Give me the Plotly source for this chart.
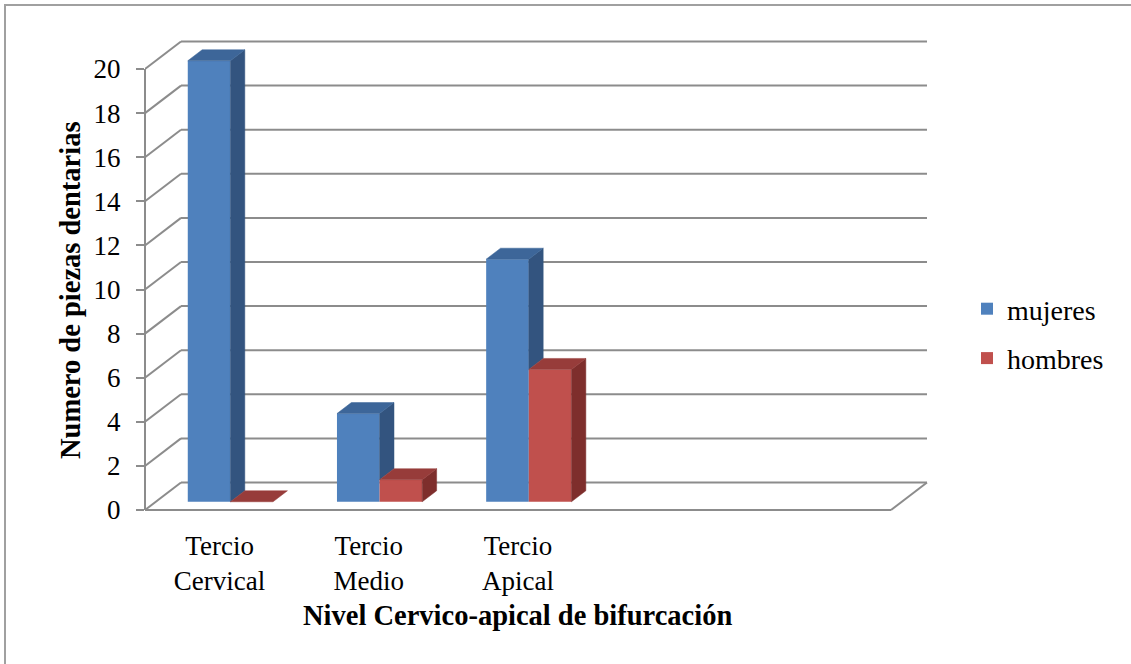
import plotly.graph_objects as go

# ---------------- data ----------------
categories = ["Tercio<br>Cervical", "Tercio<br>Medio", "Tercio<br>Apical", "", ""]
series_names = ["mujeres", "hombres"]
mujeres = [20, 4, 11]
hombres = [0, 1, 6]
y_ticks = [0, 2, 4, 6, 8, 10, 12, 14, 16, 18, 20]

# ---------------- styling / geometry ----------------
FONT = "Liberation Serif"
front_colors = ["#4F81BD", "#C0504D"]
side_colors = ["#33547F", "#7E2E2C"]
top_colors = ["#3D6699", "#973C3A"]
GRID = "#8C8C8C"

W, H = 1131, 664
PX_CAT = 149.2      # px per category on front plane
PX_UNIT = 22.05     # px per value unit
L, T, B = 145, 39, 151
PW = 785
PH = H - T - B
R = W - L - PW
DX = 36 / PX_CAT     # full depth shift in x units
DY = 27.5 / PX_UNIT  # full depth shift in y units
BAR_W = 1 / 3.5
D0, D1 = 0.3, 0.7
N = len(categories)
YMAX = y_ticks[-1]

x_lo = -0.5
x_hi = x_lo + PW / PX_CAT
y_lo = -3 / PX_UNIT
y_hi = y_lo + PH / PX_UNIT

fig = go.Figure()

values = [mujeres, hombres]

ddx = (D1 - D0) * DX
ddy = (D1 - D0) * DY
for s, vals in enumerate(values):
    xs_center = [i + D0 * DX + (s - 0.5) * BAR_W for i in range(len(vals))]
    fig.add_trace(go.Bar(
        x=xs_center, y=vals, base=D0 * DY, width=BAR_W,
        marker=dict(color=front_colors[s], line=dict(width=0)),
        name=series_names[s], legendgroup=series_names[s],
        hoverinfo="skip",
    ))

for i in range(len(mujeres)):
    for s, vals in enumerate(values):
        v = vals[i]
        x0 = i + D0 * DX + (s - 1) * BAR_W
        yb = D0 * DY
        yt = yb + v
        if s == 0:
            ys = yb + min(v, values[1][i])
        else:
            ys = yb
        if yt > ys:
            fig.add_trace(go.Scatter(
                x=[x0 + BAR_W, x0 + BAR_W, x0 + BAR_W + ddx, x0 + BAR_W + ddx, x0 + BAR_W],
                y=[ys, yt, yt + ddy, ys + ddy, ys],
                fill="toself", fillcolor=side_colors[s], mode="lines",
                line=dict(color=side_colors[s], width=0.5),
                showlegend=False, hoverinfo="skip"))
        fig.add_trace(go.Scatter(
            x=[x0, x0 + BAR_W, x0 + BAR_W + ddx, x0 + ddx, x0],
            y=[yt, yt, yt + ddy, yt + ddy, yt],
            fill="toself", fillcolor=top_colors[s], mode="lines",
            line=dict(color=top_colors[s], width=0.5),
            showlegend=False, hoverinfo="skip"))

shapes = []
line = dict(color=GRID, width=2)
for v in y_ticks:
    shapes.append(dict(type="line", xref="x", yref="y", x0=-0.5, y0=v,
                       x1=-0.5 + DX, y1=v + DY, line=line, layer="below"))
    shapes.append(dict(type="line", xref="x", yref="y", x0=-0.5 + DX, y0=v + DY,
                       x1=N - 0.5 + DX, y1=v + DY, line=line, layer="below"))
shapes.append(dict(type="line", xref="x", yref="y", x0=-0.5, y0=0, x1=N - 0.5, y1=0,
                   line=line, layer="below"))
shapes.append(dict(type="line", xref="x", yref="y", x0=N - 0.5, y0=0, x1=N - 0.5 + DX, y1=DY,
                   line=line, layer="below"))
shapes.append(dict(type="line", xref="paper", yref="y", x0=0, y0=0, x1=0, y1=YMAX,
                   line=line, layer="below"))
shapes.append(dict(type="rect", xref="paper", yref="paper",
                   x0=(5 - L) / PW, x1=(1200 - L) / PW,
                   y0=(H - B - 720) / PH, y1=(H - B - 5) / PH,
                   line=dict(color="#A0A0A0", width=2), fillcolor="rgba(0,0,0,0)", layer="below"))

annotations = [
    dict(text="<b>Numero de piezas dentarias</b>", textangle=-90, xref="paper", yref="paper",
         x=(70 - L) / PW, y=(H - B - 290) / PH, xanchor="center", yanchor="middle",
         showarrow=False, font=dict(family=FONT, size=28.5, color="black")),
    dict(text="<b>Nivel Cervico-apical de bifurcación</b>", xref="paper", yref="paper",
         x=(517 - L) / PW, y=(H - B - 615) / PH, xanchor="center", yanchor="middle",
         showarrow=False, font=dict(family=FONT, size=28.5, color="black")),
]

fig.update_layout(
    width=W, height=H,
    margin=dict(l=L, r=R, t=T, b=B, pad=0),
    paper_bgcolor="white", plot_bgcolor="white",
    barmode="overlay",
    shapes=shapes, annotations=annotations,
    font=dict(family=FONT, size=27, color="black"),
    showlegend=True,
    legend=dict(x=(967 - L) / PW, y=(H - B - 284) / PH, xanchor="left", yanchor="top",
                font=dict(family=FONT, size=28, color="black"),
                traceorder="grouped", tracegroupgap=10, bgcolor="rgba(0,0,0,0)"),
    xaxis=dict(range=[x_lo, x_hi], tickvals=list(range(N)), ticktext=categories,
               showgrid=False, zeroline=False, showline=False, ticks="",
               tickfont=dict(family=FONT, size=27, color="black"), ticklabelstandoff=14),
    yaxis=dict(range=[y_lo, y_hi], tickvals=y_ticks, showgrid=False, zeroline=False,
               showline=False, ticks="outside", ticklen=8, tickwidth=2, tickcolor=GRID,
               tickfont=dict(family=FONT, size=27, color="black"), ticklabelstandoff=10),
)

fig.write_html("out.html", config={"displayModeBar": False},
               post_script="document.body.style.margin='0';")
